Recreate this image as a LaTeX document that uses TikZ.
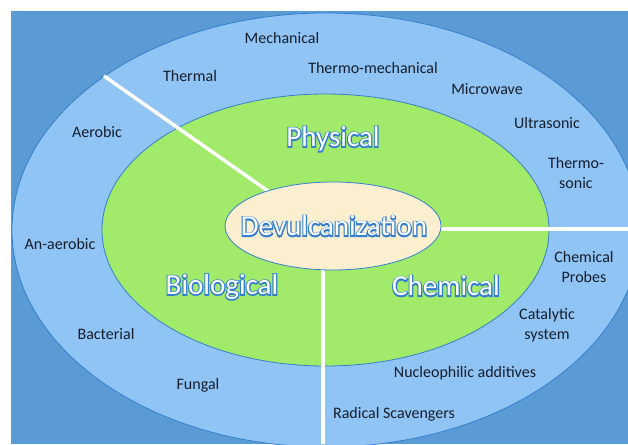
\documentclass[tikz,border=0pt]{standalone}
\usepackage{fontspec}
\setmainfont{Carlito}
\usepackage{tikz}

\definecolor{bgblue}{RGB}{91,155,213}
\definecolor{ringblue}{RGB}{143,196,244}
\definecolor{leafgreen}{RGB}{162,235,106}
\definecolor{cream}{RGB}{252,239,208}
\definecolor{rimblue}{RGB}{52,128,205}
\definecolor{ink}{RGB}{22,30,44}

% white letters on a stroked blue copy (text render mode 2)
\newcommand{\wordart}[1]{{\color{rimblue}\special{pdf:literal direct 2 Tr 2.4 w}\rlap{#1}\special{pdf:literal direct 0 Tr}}{\color{white}#1}}

\begin{document}
\begin{tikzpicture}[x=1pt,y=-1pt,
    rim/.style={draw=rimblue,line width=0.8pt},
    cut/.style={white,line width=3.5pt},
    lbl/.style={text=ink,font=\fontsize{16}{19.5}\selectfont,align=center,inner sep=0pt},
    big/.style={font=\fontsize{29}{32}\selectfont,inner sep=0pt}]
    \useasboundingbox (0,0) rectangle (628,444);
    \fill[bgblue] (11,11) rectangle (628,444);

    \coordinate (hub) at (333,226);
    \coordinate (inNW) at (295,210);
    \coordinate (inE) at (400,229);
    \coordinate (inS) at (323,250);
    \coordinate (outNW) at (104,76);
    \coordinate (outE) at (628,229);
    \coordinate (outS) at (323,444);

    \begin{scope}
      \clip (11,11) rectangle (628,444);
      \filldraw[rim,fill=ringblue] (326,230) ellipse [x radius=314pt,y radius=217pt];
      \filldraw[rim,fill=leafgreen] (325.5,230) ellipse [x radius=223.5pt,y radius=136pt];
      \draw[cut] (inNW) -- (outNW);
      \draw[cut] (inE) -- (outE);
      \draw[cut] (inS) -- (outS);
      \filldraw[rim,fill=cream] (hub) ellipse [x radius=108pt,y radius=44pt];
    \end{scope}

    \node (core) at (334,226) [big] {\wordart{Devulcanization}};
    \node (phys) at (333,139) [big] {\wordart{Physical}};
    \node (bio) at (222,287) [big] {\wordart{Biological}};
    \node (chem) at (446,286) [big] {\wordart{Chemical}};

    \node (mech) at (282,38) [lbl] {Mechanical};
    \node (therm) at (190,76) [lbl] {Thermal};
    \node (thmech) at (373,68) [lbl] {Thermo-mechanical};
    \node (micro) at (487,89) [lbl] {Microwave};
    \node (ultra) at (547,123) [lbl] {Ultrasonic};
    \node (thson) at (576,173) [lbl] {Thermo-\\sonic};
    \node (aer) at (97,132) [lbl] {Aerobic};
    \node (anaer) at (60,244) [lbl] {An-aerobic};
    \node (bact) at (106,334) [lbl] {Bacterial};
    \node (fung) at (198,385) [lbl] {Fungal};
    \node (probe) at (584,267) [lbl] {Chemical\\Probes};
    \node (catal) at (547,325) [lbl] {Catalytic\\system};
    \node (nucl) at (465,373) [lbl] {Nucleophilic additives};
    \node (radic) at (394,414) [lbl] {Radical Scavengers};
\end{tikzpicture}
\end{document}
